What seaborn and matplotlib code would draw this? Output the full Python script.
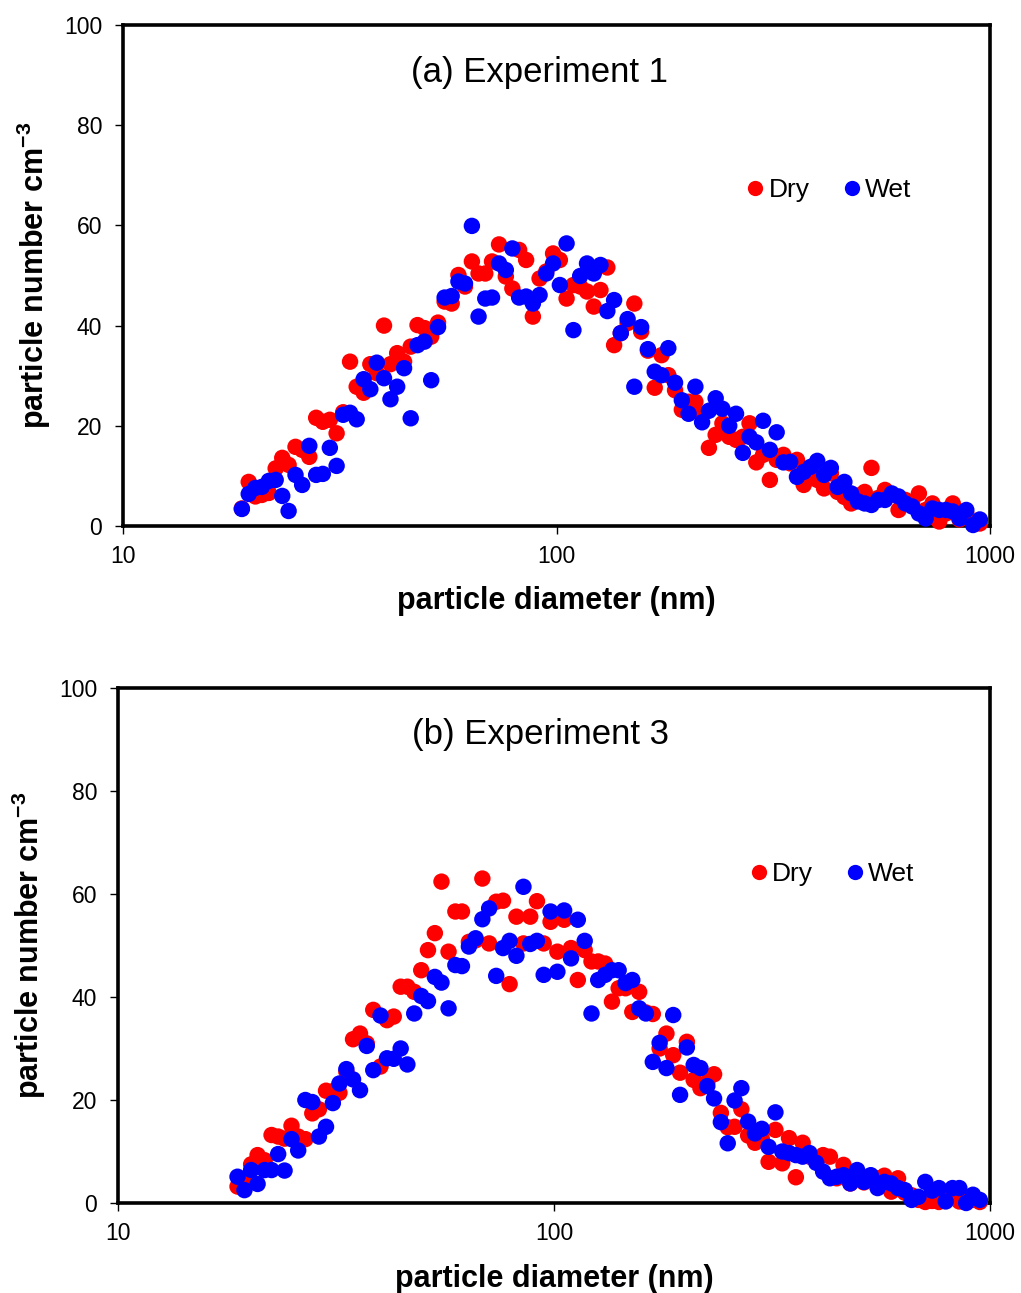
import matplotlib
matplotlib.use("Agg")
import matplotlib.pyplot as plt
import seaborn as sns
import pandas as pd
from matplotlib.ticker import FixedLocator, FixedFormatter, NullLocator

# Bin midpoint diameters (nm)
diameters = [18.8, 19.5, 20.2, 20.9, 21.7, 22.5, 23.3, 24.1, 25.0, 25.9,
             26.9, 27.9, 28.9, 30.0, 31.1, 32.2, 33.4, 34.6, 35.9, 37.2,
             38.5, 40.0, 41.4, 42.9, 44.5, 46.1, 47.8, 49.6, 51.4, 53.3,
             55.2, 57.3, 59.4, 61.5, 63.8, 66.1, 68.5, 71.0, 73.7, 76.4,
             79.1, 82.0, 85.1, 88.2, 91.4, 94.7, 98.2, 101.8, 105.5, 109.4,
             113.4, 117.6, 121.9, 126.3, 131.0, 135.8, 140.7, 145.9, 151.2, 156.8,
             162.5, 168.5, 174.7, 181.1, 187.7, 194.6, 201.7, 209.1, 216.7, 224.7,
             232.9, 241.4, 250.3, 259.5, 269.0, 278.8, 289.0, 299.6, 310.6, 322.0,
             333.8, 346.0, 358.7, 371.8, 385.4, 399.5, 414.2, 429.4, 445.1, 461.4,
             478.3, 495.8, 514.0, 532.8, 552.3, 572.5, 593.5, 615.3, 637.8, 661.2,
             685.4, 710.5, 736.5, 763.5, 791.5, 820.5, 850.5, 881.7, 914.0, 947.5]

# Experiment 1
exp1_dry = [3.5, 8.8, 5.9, 6.2, 6.6, 11.5, 13.6, 12.2, 15.8, 15.2,
            13.8, 21.6, 20.8, 21.2, 18.5, 22.7, 32.8, 27.8, 26.6, 32.3,
            30.5, 40.0, 32.3, 34.5, 32.8, 35.8, 40.1, 39.5, 37.8, 40.6,
            44.8, 44.4, 50.1, 47.8, 52.8, 50.4, 50.4, 52.8, 56.2, 49.8,
            47.4, 55.1, 53.1, 41.8, 49.4, 50.8, 54.4, 53.1, 45.4, 48.1,
            47.8, 46.8, 43.8, 47.1, 51.6, 36.1, 38.5, 40.5, 44.4, 38.8,
            35.0, 27.6, 34.1, 30.1, 27.1, 23.2, 24.8, 24.8, 22.2, 15.6,
            18.2, 20.5, 17.8, 17.2, 17.8, 20.5, 12.7, 14.2, 9.2, 13.2,
            14.2, 12.5, 13.2, 8.2, 10.5, 9.2, 7.5, 10.5, 6.8, 5.8,
            4.5, 6.1, 6.8, 11.6, 5.6, 7.2, 6.2, 3.2, 5.2, 4.8,
            6.5, 3.2, 4.5, 0.9, 2.5, 4.5, 1.3, 2.5, 0.5, 0.5]
exp1_wet = [3.4, 6.4, 7.6, 7.8, 9.0, 9.2, 6.0, 3.0, 10.2, 8.2,
            16.0, 10.2, 10.4, 15.6, 12.0, 22.2, 22.6, 21.3, 29.3, 27.3,
            32.6, 29.5, 25.3, 27.8, 31.5, 21.5, 36.1, 36.8, 29.1, 39.7,
            45.6, 45.9, 48.8, 48.4, 59.9, 41.8, 45.4, 45.6, 52.4, 51.1,
            55.4, 45.6, 45.8, 44.4, 46.1, 50.4, 52.4, 48.1, 56.4, 39.1,
            49.9, 52.4, 50.4, 52.1, 42.9, 45.1, 38.5, 41.3, 27.8, 39.7,
            35.3, 30.8, 30.1, 35.5, 28.6, 25.1, 22.4, 27.8, 20.7, 23.0,
            25.5, 23.4, 20.0, 22.4, 14.6, 17.8, 16.7, 21.0, 15.2, 18.7,
            12.7, 12.8, 9.8, 10.8, 11.8, 13.0, 10.2, 11.6, 7.8, 8.8,
            6.5, 4.9, 4.5, 4.2, 5.2, 5.2, 6.5, 5.9, 4.5, 3.9,
            2.5, 1.5, 3.5, 3.2, 3.2, 2.9, 1.5, 3.2, 0.2, 1.3]

# Experiment 3
exp3_dry = [3.2, 4.1, 7.5, 9.3, 8.3, 13.2, 12.9, 12.5, 15.0, 12.9,
            12.4, 17.4, 18.2, 21.8, 21.7, 21.4, 25.5, 31.8, 32.9, 31.0,
            37.5, 26.5, 35.5, 36.2, 42.0, 42.0, 41.0, 45.2, 49.1, 52.4,
            62.4, 48.8, 56.6, 56.6, 50.7, 51.0, 63.0, 50.4, 58.5, 58.7,
            42.5, 55.6, 50.4, 55.6, 58.6, 50.4, 54.6, 48.8, 55.0, 49.5,
            43.3, 49.1, 46.9, 46.9, 46.5, 39.1, 41.7, 41.7, 37.1, 41.0,
            37.0, 36.7, 30.0, 32.9, 28.7, 25.3, 31.3, 23.9, 22.3, 23.5,
            25.0, 17.5, 14.7, 14.8, 18.2, 13.1, 11.7, 12.5, 8.0, 14.2,
            7.7, 12.6, 5.0, 11.7, 9.0, 8.5, 9.3, 9.0, 4.8, 7.4,
            3.8, 5.5, 4.0, 4.8, 4.8, 5.3, 2.2, 4.8, 2.0, 1.5,
            0.6, 0.2, 0.4, 0.2, 0.6, 1.2, 0.3, 0.6, 0.6, 0.2]
exp3_wet = [5.1, 2.5, 6.4, 3.7, 6.4, 6.4, 9.5, 6.3, 12.4, 10.2,
            20.0, 19.6, 12.9, 14.8, 19.4, 23.2, 26.0, 24.0, 21.9, 30.5,
            25.8, 36.4, 28.1, 28.0, 30.0, 26.9, 36.8, 40.2, 39.2, 43.9,
            42.8, 37.8, 46.2, 46.0, 49.8, 51.4, 55.1, 57.2, 44.1, 49.5,
            50.9, 48.0, 61.4, 50.3, 50.9, 44.3, 56.6, 44.9, 56.8, 47.5,
            55.0, 50.9, 36.8, 43.3, 44.3, 45.2, 45.2, 42.7, 43.3, 37.8,
            36.8, 27.4, 31.1, 26.2, 36.5, 21.0, 30.2, 26.8, 26.2, 22.7,
            20.3, 15.7, 11.6, 19.9, 22.3, 15.8, 13.5, 14.4, 10.9, 17.6,
            10.0, 9.7, 9.3, 9.0, 9.7, 7.8, 6.1, 4.8, 5.1, 5.4,
            3.8, 6.4, 4.1, 5.4, 2.9, 4.1, 3.8, 2.9, 2.5, 0.6,
            1.2, 4.1, 2.4, 2.9, 0.3, 2.9, 2.9, 0.0, 1.6, 0.6]

series_names = ["Dry", "Wet"]
panel_titles = ["(a) Experiment 1", "(b) Experiment 3"]
x_ticks = [10, 100, 1000]
x_tick_labels = ["10", "100", "1000"]
y_ticks = [0, 20, 40, 60, 80, 100]

sns.set_style("ticks")
plt.rcParams["font.family"] = ["Liberation Sans", "DejaVu Sans"]
plt.rcParams["mathtext.fontset"] = "custom"
plt.rcParams["mathtext.rm"] = "Liberation Sans"
plt.rcParams["mathtext.bf"] = "Liberation Sans:bold"
plt.rcParams["text.color"] = "black"
plt.rcParams["axes.labelcolor"] = "black"
plt.rcParams["xtick.color"] = "black"
plt.rcParams["ytick.color"] = "black"

W, H = 1021, 1293
fig = plt.figure(figsize=(W / 100, H / 100), dpi=100)
fig.patch.set_facecolor("white")

# axes rectangles in pixels: left, top, right, bottom
rects = [(123, 25, 990, 526), (118, 688, 990, 1203)]
legend_pos = [(0.81, 0.67), (0.815, 0.639)]
title_pos = [(0.48, 0.906), (0.484, 0.909)]
palette = {"Dry": "#ff0000", "Wet": "#0000ff"}

data_sets = [(exp1_dry, exp1_wet), (exp3_dry, exp3_wet)]

for k, (dry, wet) in enumerate(data_sets):
    l, t, r, b = rects[k]
    ax = fig.add_axes([l / W, 1 - b / H, (r - l) / W, (b - t) / H])
    df = pd.DataFrame({
        "diameter": diameters + diameters,
        "number": dry + wet,
        "condition": [series_names[0]] * len(diameters) + [series_names[1]] * len(diameters),
    })
    sns.scatterplot(data=df, x="diameter", y="number", hue="condition",
                    palette=palette, s=140, linewidth=0, edgecolor="none",
                    ax=ax, legend=True, zorder=3, clip_on=False)
    ax.set_xscale("log")
    ax.set_xlim(10, 1000)
    ax.set_ylim(0, 100)
    ax.xaxis.set_major_locator(FixedLocator(x_ticks))
    ax.xaxis.set_major_formatter(FixedFormatter(x_tick_labels))
    ax.xaxis.set_minor_locator(NullLocator())
    ax.set_yticks(y_ticks)
    ax.tick_params(axis="both", direction="out", length=6, width=1,
                   labelsize=16.5, colors="black")
    ax.tick_params(axis="x", pad=8)
    ax.tick_params(axis="y", pad=9)
    for sp in ax.spines.values():
        sp.set_visible(True)
        sp.set_linewidth(2.6)
        sp.set_color("black")
    ax.set_facecolor("white")
    ax.set_xlabel("particle diameter (nm)", fontsize=22, fontweight="bold",
                  labelpad=13, color="black")
    ax.set_ylabel(r"particle number cm$^{\mathbf{-3}}$", fontsize=22,
                  fontweight="bold", labelpad=8, color="black")
    ax.text(title_pos[k][0], title_pos[k][1], panel_titles[k], transform=ax.transAxes,
            ha="center", va="center", fontsize=25, color="black")
    handles, labels = ax.get_legend_handles_labels()
    for h in handles:
        try:
            h.set_markersize(11)
        except Exception:
            pass
    leg = ax.legend(handles, labels, loc="center", bbox_to_anchor=legend_pos[k],
                    ncol=2, frameon=False, fontsize=19, handletextpad=-0.1,
                    columnspacing=1.0, handlelength=1.2, borderpad=0)
    for txt in leg.get_texts():
        txt.set_color("black")

fig.savefig("out.png", dpi=100, facecolor="white")
